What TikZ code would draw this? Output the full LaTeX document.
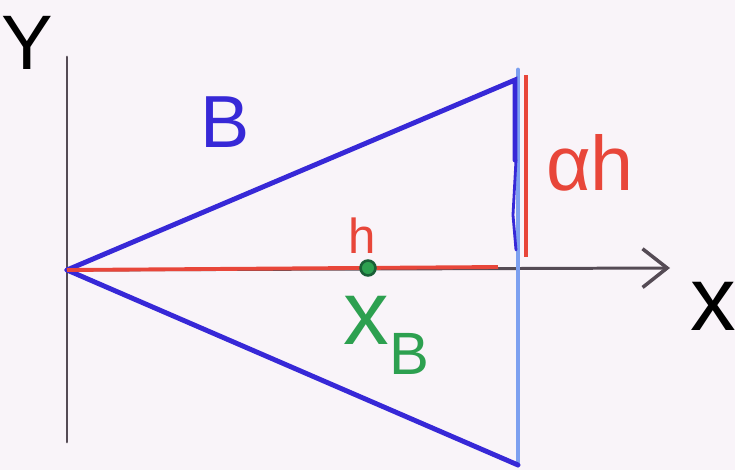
\documentclass[tikz,border=0pt]{standalone}
\usepackage{fontspec}
\setsansfont{Liberation Sans}
\usetikzlibrary{arrows.meta}

\definecolor{paper}{RGB}{249,244,249}
\definecolor{penblue}{RGB}{55,40,215}
\definecolor{lightpen}{RGB}{125,160,240}
\definecolor{penred}{RGB}{232,70,58}
\definecolor{pengreen}{RGB}{45,160,80}
\definecolor{darkgreen}{RGB}{25,95,55}
\definecolor{pengray}{RGB}{85,75,85}

\newcommand{\penfont}[1]{\sffamily\fontsize{#1}{#1}\selectfont}

\begin{document}
\begin{tikzpicture}[x=0.02cm, y=-0.02cm,
  pen/.style={line width=2.8pt, line cap=round},
  axis/.style={line width=1.7pt, draw=pengray, line cap=round},
  lbl/.style={inner sep=0pt, font=\penfont{30}},
  arr/.style={-{Straight Barb[length=14pt, width=22pt, line width=2pt]}}
]
% Paper
\fill[paper] (0,0) rectangle (735,470);
\useasboundingbox (0,0) rectangle (735,470);

% Points
\coordinate (O) at (67,270);
\coordinate (ytop) at (67,57);
\coordinate (ybot) at (67,442);
\coordinate (xend) at (670,268);
\coordinate (top) at (515,80);
\coordinate (bot) at (518,465);
\coordinate (cuttop) at (518,70);
\coordinate (hend) at (498,267);
\coordinate (dhtop) at (526,75);
\coordinate (dhbot) at (526,257);

% Axes
\draw[axis] (ybot) -- (ytop);
\draw[axis, arr] (O) -- (xend);

% Cross section
\draw[pen, draw=lightpen] (cuttop) -- (bot);
\draw[pen, draw=penblue] (O) -- (top) -- (515,160);
\draw[pen, draw=penblue] (O) -- (bot);
\draw[line width=1.6pt, draw=penblue, line cap=round] (516,160) -- (513,215) -- (516,250);

% Height
\draw[line width=2.2pt, draw=penred] (O) -- (hend);
\draw[line width=2.4pt, draw=penred] (dhtop) -- (dhbot);
\node[circle, draw=darkgreen, fill=pengreen, line width=1.5pt,
      inner sep=3pt] (xb) at (368,268) {};

% Labels
\node[lbl, font=\penfont{44}] (ylabel) at (27,43) {Y};
\node[lbl, font=\penfont{52}] (xlabel) at (713,306) {x};
\node[lbl, font=\penfont{42}, text=penblue] (blabel) at (225,122) {B};
\node[lbl, font=\penfont{28}, text=penred] (hlabel) at (362,236) {h};
\node[lbl, font=\penfont{44}, text=penred] (dhlabel) at (590,163) {αh};
\node[lbl, font=\penfont{52}, text=pengreen, anchor=west] (xblabel) at (343,335)
  {x{\penfont{34}\raisebox{-0.5em}{B}}};
\end{tikzpicture}
\end{document}
